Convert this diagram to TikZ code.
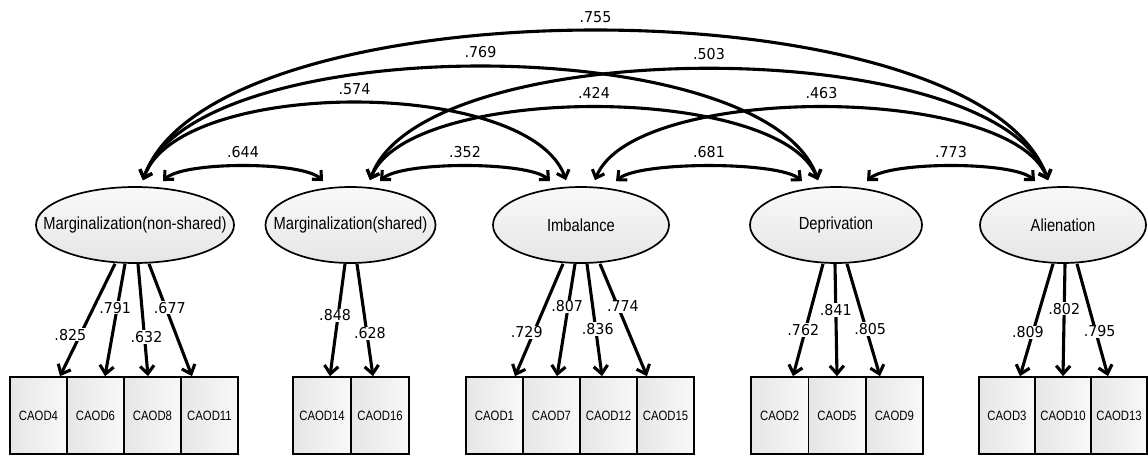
\documentclass[tikz,border=0pt]{standalone}
\usepackage{fontspec}
\setmainfont{Liberation Sans}[FakeStretch=0.84]
\newfontfamily\numfont{DejaVu Sans}[FakeStretch=0.95]
\usetikzlibrary{shapes.geometric,arrows.meta}

% zero-width text box so the ellipse keeps its given size
\newcommand{\ztext}[1]{\makebox[0pt]{#1}}

\tikzset{
  lat/.style={ellipse, draw, line width=1.7pt, minimum height=76pt, inner sep=0pt,
    top color=gray!5, bottom color=gray!20,
    font=\fontsize{17.5}{20}\selectfont},
  obs/.style={rectangle, draw, line width=1.7pt, minimum height=77pt, inner sep=0pt,
    left color=gray!20, right color=gray!5,
    font=\fontsize{13.5}{16}\selectfont},
  load/.style={line width=3.1pt, arrows={-Straight Barb[length=8pt,width=14pt]}},
  cov/.style={line width=3.1pt,
    arrows={Straight Barb[length=7pt,width=13pt]-Straight Barb[length=7pt,width=13pt]}},
  coef/.style={fill=white, inner sep=1pt, font=\numfont\fontsize{15}{17}\selectfont},
}

\begin{document}
\begin{tikzpicture}[x=1pt,y=-1pt]
\useasboundingbox (0,0) rectangle (1148,455);

% latent factors
\node[lat, minimum width=198pt] (mns) at (135,225)   {\ztext{Marginalization(non-shared)}};
\node[lat, minimum width=170pt] (ms)  at (350.5,225) {\ztext{Marginalization(shared)}};
\node[lat, minimum width=176pt] (imb) at (581,225)   {\ztext{Imbalance}};
\node[lat, minimum width=172pt] (dep) at (836,225)   {\ztext{Deprivation}};
\node[lat, minimum width=166pt] (ali) at (1063,225)  {\ztext{Alienation}};

% observed items
\node[obs, minimum width=57pt] (c4)  at (38.5,415.5)  {CAOD4};
\node[obs, minimum width=57pt] (c6)  at (95.5,415.5)  {CAOD6};
\node[obs, minimum width=57pt] (c8)  at (152.5,415.5) {CAOD8};
\node[obs, minimum width=57pt] (c11) at (209.5,415.5) {CAOD11};

\node[obs, minimum width=58pt] (c14) at (322,415.5) {CAOD14};
\node[obs, minimum width=58pt] (c16) at (380,415.5) {CAOD16};

\node[obs, minimum width=57pt] (c1)  at (494.5,415.5) {CAOD1};
\node[obs, minimum width=57pt] (c7)  at (551.5,415.5) {CAOD7};
\node[obs, minimum width=57pt] (c12) at (608.5,415.5) {CAOD12};
\node[obs, minimum width=57pt] (c15) at (665.5,415.5) {CAOD15};

\node[obs, minimum width=57.3pt] (c2) at (779.7,415.5) {CAOD2};
\node[obs, minimum width=57.3pt] (c5) at (837,415.5)   {CAOD5};
\node[obs, minimum width=57.3pt] (c9) at (894.3,415.5) {CAOD9};

\node[obs, minimum width=56pt] (c3)  at (1007,415.5) {CAOD3};
\node[obs, minimum width=56pt] (c10) at (1063,415.5) {CAOD10};
\node[obs, minimum width=56pt] (c13) at (1119,415.5) {CAOD13};

% factor loadings
\draw[load] ([xshift=-20pt]mns.south) -- ([xshift=21.5pt]c4.north)  node[coef, pos=.63, xshift=-10pt] {.825};
\draw[load] ([xshift=-10pt]mns.south) -- ([xshift=9.5pt]c6.north)   node[coef, pos=.39, xshift=-2pt] {.791};
\draw[load] ([xshift=3pt]mns.south)   -- ([xshift=-4.5pt]c8.north)  node[coef, pos=.65, xshift=2pt] {.632};
\draw[load] ([xshift=14pt]mns.south)  -- ([xshift=-17.5pt]c11.north) node[coef, pos=.39, xshift=4pt] {.677};

\draw[load] ([xshift=-5.5pt]ms.south) -- ([xshift=8pt]c14.north)  node[coef, pos=.46, xshift=-3pt] {.848};
\draw[load] ([xshift=6.5pt]ms.south)  -- ([xshift=-7pt]c16.north) node[coef, pos=.62, xshift=3pt] {.628};

\draw[load] ([xshift=-18pt]imb.south) -- ([xshift=20.5pt]c1.north)  node[coef, pos=.61, xshift=-7pt] {.729};
\draw[load] ([xshift=-6pt]imb.south)  -- ([xshift=5.5pt]c7.north)   node[coef, pos=.38, xshift=-1pt] {.807};
\draw[load] ([xshift=6pt]imb.south)   -- ([xshift=-6.5pt]c12.north) node[coef, pos=.58, xshift=2pt] {.836};
\draw[load] ([xshift=19pt]imb.south)  -- ([xshift=-18.5pt]c15.north) node[coef, pos=.38, xshift=5pt] {.774};

\draw[load] ([xshift=-13pt]dep.south) -- ([xshift=13.3pt]c2.north) node[coef, pos=.59, xshift=-2pt] {.762};
\draw[load] ([xshift=-1pt]dep.south)  -- (c5.north)                node[coef, pos=.41] {.841};
\draw[load] ([xshift=11pt]dep.south)  -- ([xshift=-14.3pt]c9.north) node[coef, pos=.58, xshift=4pt] {.805};

\draw[load] ([xshift=-10pt]ali.south) -- ([xshift=13pt]c3.north)  node[coef, pos=.61, xshift=-5pt] {.809};
\draw[load] ([xshift=2pt]ali.south)   -- (c10.north)              node[coef, pos=.40] {.802};
\draw[load] ([xshift=14pt]ali.south)  -- ([xshift=-11pt]c13.north) node[coef, pos=.60, xshift=4pt] {.795};

% factor covariances
\draw[cov] ([xshift=8pt,yshift=6pt]mns.north) .. controls +(70,-199) and +(-70,-199) .. ([xshift=-15pt,yshift=6pt]ali.north) coordinate[pos=.5] (k755);
\draw[cov] ([xshift=8pt,yshift=6pt]mns.north) .. controls +(52,-151) and +(-52,-151) .. ([xshift=-18pt,yshift=6pt]dep.north) coordinate[pos=.5] (k769);
\draw[cov] ([xshift=19.5pt,yshift=6pt]ms.north) .. controls +(52,-148) and +(-52,-148) .. ([xshift=-15pt,yshift=6pt]ali.north) coordinate[pos=.5] (k503);
\draw[cov] ([xshift=8pt,yshift=6pt]mns.north) .. controls +(36,-103) and +(-36,-103) .. ([xshift=-15pt,yshift=6pt]imb.north) coordinate[pos=.5] (k574);
\draw[cov] ([xshift=19.5pt,yshift=6pt]ms.north) .. controls +(38,-97) and +(-38,-97) .. ([xshift=-18pt,yshift=6pt]dep.north) coordinate[pos=.5] (k424);
\draw[cov] ([xshift=14pt,yshift=6pt]imb.north) .. controls +(38,-97) and +(-38,-97) .. ([xshift=-15pt,yshift=6pt]ali.north) coordinate[pos=.5] (k463);
\draw[cov] ([xshift=28pt,yshift=5pt]mns.north) .. controls +(20,-20) and +(-20,-20) .. ([xshift=-27.5pt,yshift=5pt]ms.north) coordinate[pos=.5] (k644);
\draw[cov] ([xshift=29.5pt,yshift=5pt]ms.north) .. controls +(21,-20) and +(-21,-20) .. ([xshift=-31pt,yshift=5pt]imb.north) coordinate[pos=.5] (k352);
\draw[cov] ([xshift=35pt,yshift=5pt]imb.north) .. controls +(23,-20) and +(-23,-20) .. ([xshift=-34pt,yshift=5pt]dep.north) coordinate[pos=.5] (k681);
\draw[cov] ([xshift=31pt,yshift=5pt]dep.north) .. controls +(21,-20) and +(-21,-20) .. ([xshift=-28pt,yshift=5pt]ali.north) coordinate[pos=.5] (k773);

% covariance values
\node[coef] at ([yshift=14pt]k755) {.755};
\node[coef] at ([yshift=15pt]k769) {.769};
\node[coef] at ([yshift=15pt]k503) {.503};
\node[coef] at ([yshift=14pt]k574) {.574};
\node[coef] at ([yshift=14pt]k424) {.424};
\node[coef] at ([yshift=14pt]k463) {.463};
\node[coef] at ([yshift=14pt]k644) {.644};
\node[coef] at ([yshift=14pt]k352) {.352};
\node[coef] at ([yshift=14pt]k681) {.681};
\node[coef] at ([yshift=14pt]k773) {.773};
\end{tikzpicture}
\end{document}
